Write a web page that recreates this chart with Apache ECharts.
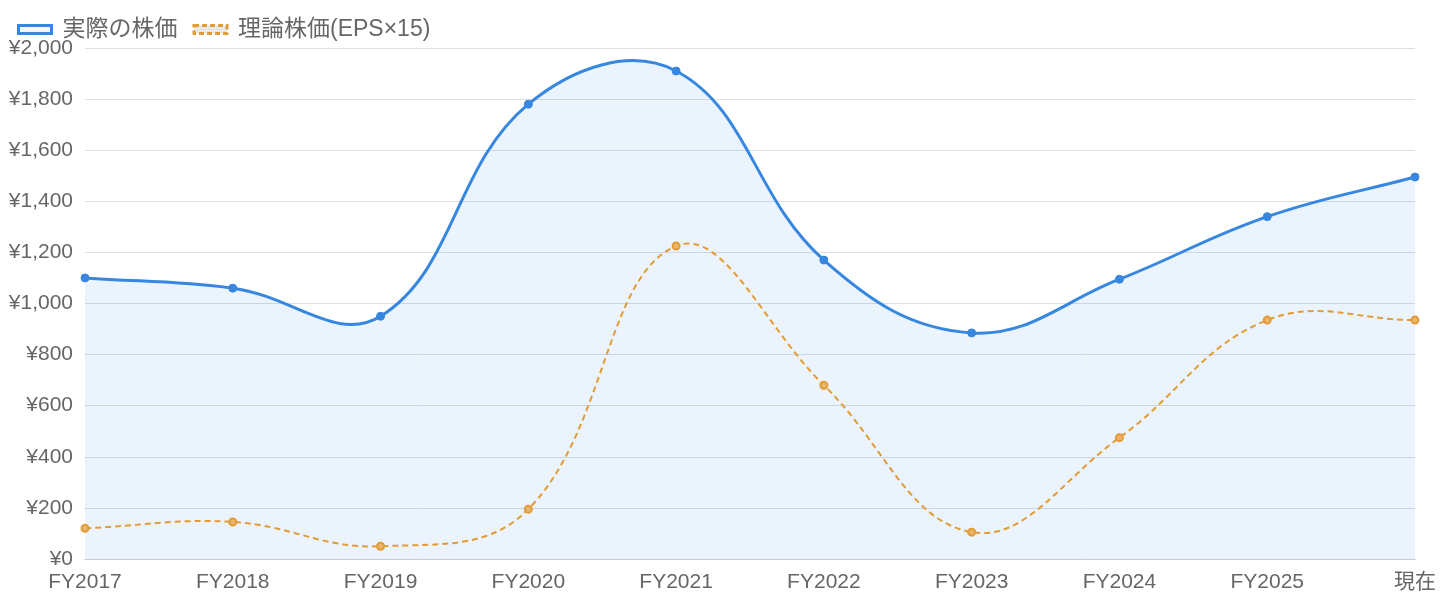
<!DOCTYPE html>
<html lang="ja">
  <head>
    <meta charset="UTF-8" />
    <title>株価 vs 理論株価</title>
    <script src="https://cdn.jsdelivr.net/npm/echarts@6/dist/echarts.min.js"></script>
    <style>
      html, body { margin: 0; padding: 0; background: #fff; }
      #main { width: 1440px; height: 600px; }
    </style>
  </head>
  <body>
    <div id="main"></div>
    <script>
      const categories = ['FY2017', 'FY2018', 'FY2019', 'FY2020', 'FY2021', 'FY2022', 'FY2023', 'FY2024', 'FY2025', '現在'];
      const actualPrice = [1100, 1060, 950, 1780, 1910, 1170, 885, 1095, 1340, 1495];
      const theoreticalPrice = [120, 145, 50, 195, 1225, 680, 105, 475, 935, 935];

      const FONT = '"Liberation Sans", Arial, "Noto Sans CJK JP", sans-serif';
      const BLUE = '#3787e0';
      const ORANGE = '#e29c36';
      const BLUE_FILL = 'rgba(55,135,224,0.1)';
      const TENSION = 0.4;

      // cubic bezier path through the points, same control points as a tension spline
      function splinePath(api, values) {
        const pts = values.map((v, i) => api.coord([i, v]));
        const n = pts.length;
        const cps = pts.map((p, i) => {
          const prev = pts[Math.max(i - 1, 0)];
          const next = pts[Math.min(i + 1, n - 1)];
          const d01 = Math.hypot(p[0] - prev[0], p[1] - prev[1]);
          const d12 = Math.hypot(next[0] - p[0], next[1] - p[1]);
          let s01 = d01 / (d01 + d12);
          let s12 = d12 / (d01 + d12);
          if (isNaN(s01)) s01 = 0;
          if (isNaN(s12)) s12 = 0;
          const fa = TENSION * s01;
          const fb = TENSION * s12;
          return {
            before: [p[0] - fa * (next[0] - prev[0]), p[1] - fa * (next[1] - prev[1])],
            after: [p[0] + fb * (next[0] - prev[0]), p[1] + fb * (next[1] - prev[1])]
          };
        });
        let d = 'M' + pts[0][0] + ',' + pts[0][1];
        for (let i = 1; i < n; i++) {
          const a = cps[i - 1].after;
          const b = cps[i].before;
          d += ' C' + a[0] + ',' + a[1] + ' ' + b[0] + ',' + b[1] + ' ' + pts[i][0] + ',' + pts[i][1];
        }
        return { d: d, pts: pts };
      }

      function curveSeries(name, values, style, withArea) {
        return {
          name: name,
          type: 'custom',
          data: values.map((v, i) => [i, v]),
          silent: true,
          z: style.z,
          renderItem: function (params, api) {
            if (params.dataIndex !== 0) return null;
            const path = splinePath(api, values);
            const children = [];
            if (withArea) {
              const base = api.coord([0, 0])[1];
              const last = path.pts[path.pts.length - 1];
              children.push({
                type: 'path',
                shape: { pathData: path.d + ' L' + last[0] + ',' + base + ' L' + path.pts[0][0] + ',' + base + ' Z' },
                style: { fill: BLUE_FILL, stroke: null }
              });
            }
            children.push({
              type: 'path',
              shape: { pathData: path.d },
              style: { fill: null, stroke: style.color, lineWidth: style.width, lineDash: style.dash || null }
            });
            return { type: 'group', children: children };
          }
        };
      }

      const chart = echarts.init(document.getElementById('main'));

      chart.setOption({
        animation: false,
        textStyle: { fontFamily: FONT },
        legend: {
          left: 12,
          top: 13,
          itemWidth: 33,
          itemHeight: 8,
          itemGap: 15,
          textStyle: { fontSize: 23, color: '#666', fontFamily: FONT, padding: [0, 0, 0, 6] },
          data: [
            {
              name: '実際の株価',
              icon: 'rect',
              itemStyle: { color: '#f4f8fd', borderColor: BLUE, borderWidth: 3 }
            },
            {
              name: '理論株価(EPS×15)',
              icon: 'rect',
              itemStyle: { color: '#e8e8e8', borderColor: ORANGE, borderWidth: 3, borderType: [5, 3] }
            }
          ]
        },
        grid: { left: 85, right: 25, top: 48, bottom: 41 },
        xAxis: {
          type: 'category',
          boundaryGap: false,
          data: categories,
          axisLine: { lineStyle: { color: '#c8ccd2', width: 1 } },
          axisTick: { show: false },
          axisLabel: { color: '#666', fontSize: 21, margin: 13, fontFamily: FONT },
          splitLine: { show: false }
        },
        yAxis: {
          type: 'value',
          min: 0,
          max: 2000,
          interval: 200,
          axisLine: { show: false },
          axisTick: { show: false },
          axisLabel: {
            color: '#666',
            fontSize: 21,
            margin: 12,
            fontFamily: FONT,
            formatter: (v) => '¥' + v.toLocaleString('en-US')
          },
          splitLine: { lineStyle: { color: '#dcdfe4', width: 1 } }
        },
        series: [
          curveSeries('実際の株価', actualPrice, { color: BLUE, width: 3, z: 2 }, true),
          curveSeries('理論株価(EPS×15)', theoreticalPrice, { color: ORANGE, width: 2, dash: [6, 4], z: 3 }, false),
          {
            name: '実際の株価',
            type: 'line',
            data: actualPrice,
            symbol: 'circle',
            symbolSize: 8,
            lineStyle: { width: 0, opacity: 0 },
            itemStyle: { color: BLUE, borderColor: BLUE, borderWidth: 1 },
            z: 4
          },
          {
            name: '理論株価(EPS×15)',
            type: 'line',
            data: theoreticalPrice,
            symbol: 'circle',
            symbolSize: 7,
            lineStyle: { width: 0, opacity: 0 },
            itemStyle: { color: '#eab46a', borderColor: ORANGE, borderWidth: 2 },
            z: 5
          }
        ]
      });

      window.onresize = function () {
        chart.resize();
      };
    </script>
  </body>
</html>
